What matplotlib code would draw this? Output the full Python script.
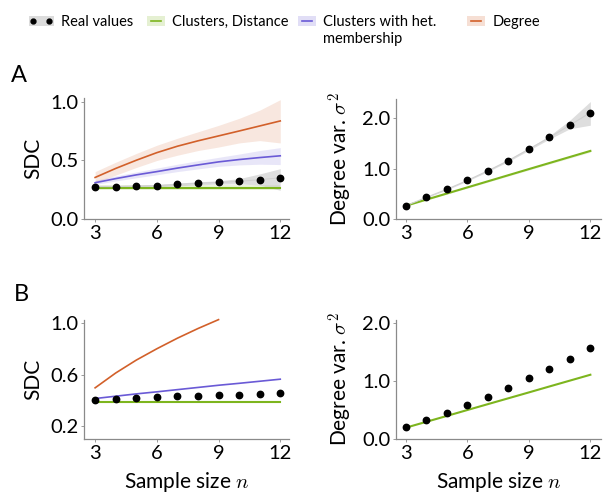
import matplotlib
matplotlib.use("Agg")
import matplotlib.pyplot as plt
import numpy as np
from matplotlib.lines import Line2D
from matplotlib.patches import Patch

plt.rcParams['font.family'] = ['Lato', 'DejaVu Sans']
plt.rcParams['mathtext.fontset'] = 'cm'

n = [3, 4, 5, 6, 7, 8, 9, 10, 11, 12]

# Panel A, SDC
A_sdc_real = [0.277, 0.277, 0.280, 0.285, 0.295, 0.305, 0.312, 0.322, 0.336, 0.352]
A_sdc_real_lo = [0.267, 0.267, 0.270, 0.275, 0.283, 0.292, 0.298, 0.300, 0.290, 0.245]
A_sdc_real_hi = [0.287, 0.287, 0.290, 0.295, 0.307, 0.318, 0.326, 0.345, 0.385, 0.430]
A_sdc_dist = [0.268, 0.268, 0.268, 0.268, 0.268, 0.268, 0.268, 0.268, 0.268, 0.268]
A_sdc_dist_lo = [0.245, 0.245, 0.245, 0.245, 0.245, 0.245, 0.245, 0.245, 0.245, 0.245]
A_sdc_dist_hi = [0.290, 0.290, 0.290, 0.290, 0.290, 0.290, 0.290, 0.290, 0.290, 0.290]
A_sdc_het = [0.310, 0.345, 0.377, 0.405, 0.435, 0.462, 0.488, 0.508, 0.525, 0.540]
A_sdc_het_lo = [0.295, 0.325, 0.352, 0.378, 0.405, 0.428, 0.450, 0.462, 0.468, 0.465]
A_sdc_het_hi = [0.330, 0.368, 0.402, 0.435, 0.468, 0.498, 0.527, 0.555, 0.585, 0.610]
A_sdc_deg = [0.355, 0.432, 0.502, 0.567, 0.622, 0.668, 0.710, 0.752, 0.795, 0.838]
A_sdc_deg_lo = [0.310, 0.375, 0.440, 0.500, 0.545, 0.585, 0.615, 0.650, 0.670, 0.650]
A_sdc_deg_hi = [0.405, 0.485, 0.560, 0.630, 0.690, 0.745, 0.800, 0.860, 0.930, 1.020]

# Panel A, degree variance
A_var_real = [0.264, 0.430, 0.590, 0.766, 0.957, 1.160, 1.386, 1.617, 1.860, 2.110]
A_var_real_lo = [0.254, 0.420, 0.578, 0.752, 0.940, 1.140, 1.362, 1.585, 1.790, 1.860]
A_var_real_hi = [0.274, 0.440, 0.602, 0.780, 0.974, 1.180, 1.410, 1.650, 1.960, 2.330]
A_var_dist = [0.264, 0.385, 0.506, 0.627, 0.748, 0.869, 0.990, 1.110, 1.230, 1.350]
A_var_dist_lo = [0.254, 0.373, 0.492, 0.612, 0.731, 0.851, 0.970, 1.089, 1.207, 1.325]
A_var_dist_hi = [0.274, 0.397, 0.520, 0.642, 0.765, 0.887, 1.010, 1.131, 1.253, 1.375]

# Panel B, SDC
B_sdc_real = [0.401, 0.410, 0.417, 0.425, 0.430, 0.433, 0.438, 0.443, 0.450, 0.455]
B_sdc_dist = [0.388, 0.388, 0.388, 0.388, 0.388, 0.388, 0.388, 0.388, 0.388, 0.388]
B_sdc_het = [0.414, 0.432, 0.450, 0.466, 0.483, 0.500, 0.517, 0.532, 0.548, 0.564]
n_deg_B = [3, 4, 5, 6, 7, 8, 9]
B_sdc_deg = [0.497, 0.612, 0.712, 0.800, 0.882, 0.957, 1.026]

# Panel B, degree variance
B_var_real = [0.213, 0.330, 0.455, 0.580, 0.726, 0.876, 1.043, 1.205, 1.378, 1.560]
B_var_dist = [0.196, 0.297, 0.398, 0.500, 0.601, 0.702, 0.803, 0.905, 1.006, 1.107]

legend_labels = ['Real values', 'Clusters, Distance', 'Clusters with het.', 'Degree']
legend_extra = 'membership'

C_ORANGE = '#d2602a'
C_BLUE = '#6a5ad6'
C_GREEN = '#7db51e'
C_SPINE = '#8a8a8a'

FW, FH = 611, 494
fig = plt.figure(figsize=(FW / 100, FH / 100), dpi=100)

L1, L2, W = 0.1375, 0.648, 0.336
axA1 = fig.add_axes([L1, 0.5567, W, 0.2449])
axA2 = fig.add_axes([L2, 0.5567, W, 0.2429])
axB1 = fig.add_axes([L1, 0.1113, W, 0.2409])
axB2 = fig.add_axes([L2, 0.1113, W, 0.2409])

def style(ax):
    for s in ['top', 'right']:
        ax.spines[s].set_visible(False)
    for s in ['left', 'bottom']:
        ax.spines[s].set_color(C_SPINE)
        ax.spines[s].set_linewidth(0.9)
    ax.tick_params(axis='both', length=2, width=0.6, color=C_SPINE, labelsize=14.5, pad=2)
    ax.set_xticks([3, 6, 9, 12])

ms = 4.6
lw = 1.2

# A left
ax = axA1
ax.fill_between(n, A_sdc_deg_lo, A_sdc_deg_hi, color=C_ORANGE, alpha=0.15, lw=0)
ax.fill_between(n, A_sdc_het_lo, A_sdc_het_hi, color=C_BLUE, alpha=0.15, lw=0)
ax.fill_between(n, A_sdc_dist_lo, A_sdc_dist_hi, color=C_GREEN, alpha=0.15, lw=0)
ax.fill_between(n, A_sdc_real_lo, A_sdc_real_hi, color='#c8c8c8', alpha=0.6, lw=0)
ax.plot(n, A_sdc_deg, color=C_ORANGE, lw=lw)
ax.plot(n, A_sdc_het, color=C_BLUE, lw=lw)
ax.plot(n, A_sdc_dist, color=C_GREEN, lw=1.5)
ax.plot(n, A_sdc_real, color='#d0d0d0', lw=0.8)
ax.plot(n, A_sdc_real, 'o', color='black', ms=ms, ls='none')
ax.set_xlim(2.46, 12.44)
ax.set_ylim(0, 1.034)
ax.set_yticks([0, 0.5, 1.0])
ax.set_yticklabels(['0.0', '0.5', '1.0'])
ax.set_ylabel('SDC', fontsize=15, labelpad=5)
style(ax)

# A right
ax = axA2
ax.fill_between(n, A_var_dist_lo, A_var_dist_hi, color=C_GREEN, alpha=0.15, lw=0)
ax.fill_between(n, A_var_real_lo, A_var_real_hi, color='#c8c8c8', alpha=0.6, lw=0)
ax.plot(n, A_var_dist, color=C_GREEN, lw=1.5)
ax.plot(n, A_var_real, color='#d0d0d0', lw=0.8)
ax.plot(n, A_var_real, 'o', color='black', ms=ms, ls='none')
ax.set_xlim(2.51, 12.53)
ax.set_ylim(0, 2.38)
ax.set_yticks([0, 1.0, 2.0])
ax.set_yticklabels(['0.0', '1.0', '2.0'])
ax.set_ylabel(r'Degree var. $\sigma^2$', fontsize=15, labelpad=5)
style(ax)

# B left
ax = axB1
ax.plot(n_deg_B, B_sdc_deg, color=C_ORANGE, lw=lw, clip_on=False)
ax.plot(n, B_sdc_het, color=C_BLUE, lw=lw)
ax.plot(n, B_sdc_dist, color=C_GREEN, lw=1.5)
ax.plot(n, B_sdc_real, 'o', color='black', ms=ms, ls='none')
ax.set_xlim(2.46, 12.44)
ax.set_ylim(0.1, 1.023)
ax.set_yticks([0.2, 0.6, 1.0])
ax.set_yticklabels(['0.2', '0.6', '1.0'])
ax.set_ylabel('SDC', fontsize=15, labelpad=5)
ax.set_xlabel(r'Sample size $n$', fontsize=15, labelpad=6)
style(ax)

# B right
ax = axB2
ax.plot(n, B_var_dist, color=C_GREEN, lw=1.5)
ax.plot(n, B_var_real, 'o', color='black', ms=ms, ls='none')
ax.set_xlim(2.51, 12.53)
ax.set_ylim(0, 2.05)
ax.set_yticks([0, 1.0, 2.0])
ax.set_yticklabels(['0.0', '1.0', '2.0'])
ax.set_ylabel(r'Degree var. $\sigma^2$', fontsize=15, labelpad=5)
ax.set_xlabel(r'Sample size $n$', fontsize=15, labelpad=6)
style(ax)

# panel letters
fig.text(0.018, 0.848, 'A', fontsize=17, va='center', ha='left')
fig.text(0.022, 0.403, 'B', fontsize=17, va='center', ha='left')

# legend (one entry per legend so that each sits where the reference has it)
h_real = (Patch(facecolor='#dcdcdc', edgecolor='none'),
          Line2D([0], [0], marker='o', color='black', ls='none', ms=3.5))
h_dist = (Patch(facecolor=C_GREEN, alpha=0.2, edgecolor='none'),
          Line2D([0], [0], color=C_GREEN, lw=lw))
h_het = (Patch(facecolor=C_BLUE, alpha=0.2, edgecolor='none'),
         Line2D([0], [0], color=C_BLUE, lw=lw))
h_deg = (Patch(facecolor=C_ORANGE, alpha=0.2, edgecolor='none'),
         Line2D([0], [0], color=C_ORANGE, lw=lw))
handles = [h_real, h_dist, h_het, h_deg]
leg_x_px = [29, 147, 298, 467]
leg_hl = [1.7, 1.23, 1.23, 1.23]
leg_fs = 10.5
legs = []
for h, lab, xp, hl in zip(handles, legend_labels, leg_x_px, leg_hl):
    lg = fig.legend([h], [lab], loc='center left',
                    bbox_to_anchor=(xp / FW, 1 - 22 / FH), frameon=False,
                    fontsize=leg_fs, handlelength=hl, handletextpad=0.5,
                    numpoints=2, borderaxespad=0, borderpad=0)
    legs.append(lg)

fig.canvas.draw()
renderer = fig.canvas.get_renderer()
bb = legs[2].get_texts()[0].get_window_extent(renderer)
fig.text(bb.x0 / FW, bb.y0 / FH - 0.006, legend_extra, fontsize=leg_fs, ha='left', va='top')

fig.savefig('out.png', dpi=100)
